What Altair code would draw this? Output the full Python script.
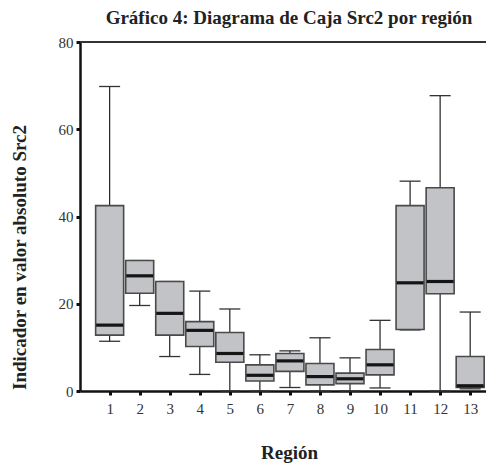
import altair as alt
import pandas as pd

regions = [1, 2, 3, 4, 5, 6, 7, 8, 9, 10, 11, 12, 13]
whisker_low = [11.4, 19.6, 7.9, 3.8, 0.0, 0.0, 0.8, 0.0, 0.0, 0.7, 14.0, 0.0, 0.5]
q1 = [12.8, 22.4, 12.8, 10.2, 6.6, 2.3, 4.5, 1.4, 1.7, 3.7, 14.1, 22.3, 0.8]
median = [15.1, 26.4, 17.8, 13.9, 8.6, 3.6, 6.9, 3.3, 2.8, 6.0, 24.8, 25.1, 1.2]
q3 = [42.5, 29.9, 25.1, 15.9, 13.4, 6.0, 8.6, 6.3, 4.1, 9.5, 42.5, 46.6, 7.9]
whisker_high = [69.8, 29.9, 25.1, 22.9, 18.8, 8.3, 9.2, 12.2, 7.6, 16.2, 48.1, 67.7, 18.1]
y_ticks = [0, 20, 40, 60, 80]

df = pd.DataFrame({
    "region": regions, "low": whisker_low, "q1": q1, "median": median,
    "q3": q3, "high": whisker_high,
})

FONT = "Liberation Serif"
W, H = 406, 349

x_scale = alt.Scale(domain=[0.18, 13.36], nice=False, zero=False)
y_scale = alt.Scale(domain=[0, 80], nice=False)

x_axis = alt.Axis(values=regions, format="d", grid=False, title="Región",
                  labelOverlap=False, labelFlush=False, tickCount=13,
                  domainColor="#111", domainWidth=2.5, tickColor="#111",
                  tickSize=4, tickWidth=3, labelPadding=6, labelFontSize=15,
                  labelColor="#333", labelFont=FONT, titleFont=FONT,
                  titleFontSize=19, titleFontWeight="bold", titleColor="#222",
                  titlePadding=27, titleX=209)
y_axis = alt.Axis(values=y_ticks, grid=False,
                  title="Indicador en valor absoluto Src2",
                  labelOverlap=False, labelFlush=False,
                  domainColor="#111", domainWidth=2.5, tickColor="#111",
                  tickSize=4, tickWidth=3, labelPadding=3, labelFontSize=15,
                  labelColor="#333", labelFont=FONT, titleFont=FONT,
                  titleFontSize=19, titleFontWeight="bold", titleColor="#222",
                  titleX=-55, titleY=215, titleBaseline="alphabetic")


def X():
    return alt.X("region:Q", scale=x_scale, axis=x_axis)


def Y(field):
    return alt.Y(f"{field}:Q", scale=y_scale, axis=y_axis)


base = alt.Chart(df)

whisk_lo = base.mark_rule(color="#222", strokeWidth=1.2).encode(
    x=X(), y=Y("low"), y2="q1:Q")
whisk_hi = base.mark_rule(color="#222", strokeWidth=1.2).encode(
    x=X(), y=Y("q3"), y2="high:Q")
cap_lo = base.mark_tick(orient="horizontal", size=21, thickness=1.3, color="#333",
                        opacity=1).encode(x=X(), y=Y("low"))
cap_hi = base.mark_tick(orient="horizontal", size=21, thickness=1.3, color="#333",
                        opacity=1).encode(x=X(), y=Y("high"))
box = base.mark_bar(size=28, fill="#c2c3c7", stroke="#4a4a4a", strokeWidth=1.6,
                    opacity=1).encode(x=X(), y=Y("q1"), y2="q3:Q")
med = base.mark_tick(orient="horizontal", size=27, thickness=3.2, color="#151515",
                     opacity=1).encode(x=X(), y=Y("median"))
top = alt.Chart(df).mark_rule(color="#333", strokeWidth=2).encode(
    x=alt.value(0), x2=alt.value(W + 10), y=alt.value(0))

chart = alt.layer(whisk_lo, whisk_hi, cap_lo, cap_hi, box, med, top).properties(
    width=W, height=H,
    title=alt.TitleParams("Gráfico 4: Diagrama de Caja Src2 por región",
                          font=FONT, fontSize=19, fontWeight="bold", color="#222",
                          offset=7, dx=6),
    autosize=alt.AutoSizeParams(type="none"),
    padding={"left": 72, "top": 34, "right": 0, "bottom": 72},
).configure_view(stroke=None)

chart.save("out.html", embed_options={"renderer": "svg", "actions": False})
